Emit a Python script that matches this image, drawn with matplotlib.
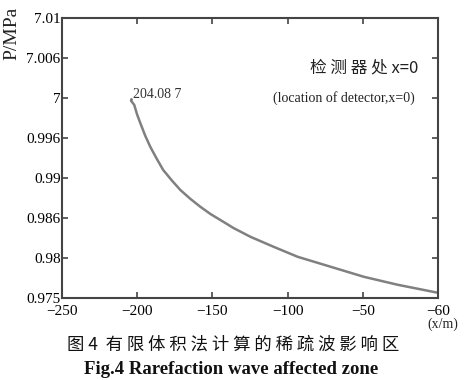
import matplotlib
matplotlib.use("Agg")
import matplotlib.pyplot as plt

# Data (y in evenly spaced tick-index units, labels as printed)
x_vals = [-204.08, -202.0, -200.0, -198.0, -194.7, -191.3, -187.0, -182.7, -177.0,
          -171.3, -164.7, -158.0, -151.3, -144.7, -136.0, -124.7, -109.3, -93.3,
          -71.3, -49.3, -26.7, -9.3, 0.0]
y_vals = [4.93, 4.83, 4.58, 4.38, 4.06, 3.78, 3.48, 3.20, 2.94,
          2.70, 2.48, 2.28, 2.10, 1.95, 1.75, 1.53, 1.28, 1.03,
          0.78, 0.53, 0.33, 0.20, 0.13]
y_tick_labels = ["0.975", "0.98", "0.986", "0.99", "0.996", "7", "7.006", "7.01"]
x_ticks = [-250, -200, -150, -100, -50, 0]
x_tick_labels = ["\u2212250", "\u2212200", "\u2212150", "\u2212100", "\u221250", "\u221260"]

serif = ["Liberation Serif", "DejaVu Serif"]
cjk = ["Noto Sans CJK SC", "Liberation Serif", "DejaVu Sans"]

fig = plt.figure(figsize=(4.67, 3.8), dpi=100)
ax = fig.add_axes([62/467, 1 - 298/380, (438-62)/467, (298-18)/380])

ax.plot(x_vals, y_vals, color="#808080", lw=1.8, solid_capstyle="round",
        solid_joinstyle="round")
ax.plot([x_vals[0]], [y_vals[0] + 0.05], marker=".", ms=2, color="#777777")

ax.set_xlim(-250, 0)
ax.set_ylim(0, 7)
ax.set_yticks(range(len(y_tick_labels)))
ax.set_yticklabels(y_tick_labels, fontfamily=serif, fontsize=11)
ax.set_xticks(x_ticks)
ax.set_xticklabels(x_tick_labels, fontfamily=serif, fontsize=11)
ax.tick_params(direction="in", length=4, width=1.2, color="#444444",
               top=True, right=True)
ax.tick_params(axis="x", pad=5)
ax.tick_params(axis="y", pad=1)
for s in ax.spines.values():
    s.set_color("#444444")
    s.set_linewidth(1.5)

ax.text(x_vals[0] + 1, 5.08, "204.08 7", fontfamily=serif, fontsize=10,
        ha="left", va="center", color="#333333")

fig.text(12/467, 1 - 33/380, "P/MPa", rotation=90, fontfamily=serif,
         fontsize=14, ha="center", va="center", color="#222222")
fig.text(418/467, 1 - 68/380, "检 测 器 处 x=0", fontfamily=cjk, fontsize=12,
         ha="right", va="center", color="#222222")
fig.text(415/467, 1 - 98/380, "(location of detector,x=0)", fontfamily=serif,
         fontsize=10, ha="right", va="center", color="#222222")
fig.text(443/467, 1 - 324/380, "(x/m)", fontfamily=serif, fontsize=10,
         ha="center", va="center", color="#222222")

fig.text(233/467, 1 - 345/380, "图 4  有 限 体 积 法 计 算 的 稀 疏 波 影 响 区",
         fontfamily=cjk, fontsize=12.5, ha="center", va="center", color="#111111")
fig.text(231/467, 1 - 370/380, "Fig.4 Rarefaction wave affected zone",
         fontfamily=serif, fontweight="bold", fontsize=13.5, ha="center",
         va="center", color="#111111")

fig.savefig("out.png", dpi=100)
